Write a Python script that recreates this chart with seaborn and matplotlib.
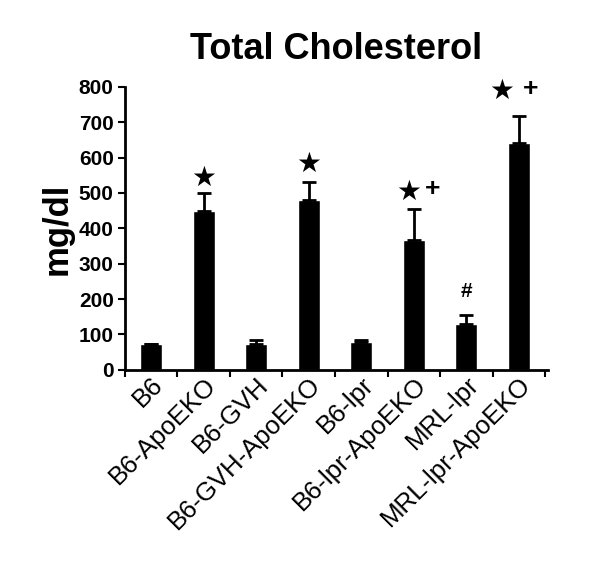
import pandas as pd
import seaborn as sns
import matplotlib.pyplot as plt

# данные
groups = ['B6', 'B6-ApoEKO', 'B6-GVH', 'B6-GVH-ApoEKO', 'B6-lpr',
          'B6-lpr-ApoEKO', 'MRL-lpr', 'MRL-lpr-ApoEKO']
chol = [73, 450, 73, 481, 79, 366, 130, 641]
err_up = [0, 49, 12, 50, 5, 89, 25, 77]

# метки значимости: (группа, текст, высота, сдвиг по x)
marks = [
    (1, '★', 543, 0.0), (3, '★', 581, 0.0), (5, '★', 504, -0.1),
    (5, '+', 510, 0.35), (6, '#', 222, 0.0), (7, '★', 790, -0.32),
    (7, '+', 795, 0.23),
]

df = pd.DataFrame({'group': groups, 'chol': chol})

sns.set_style("ticks")
plt.rcParams['font.family'] = ['Liberation Sans', 'DejaVu Sans']
for k in ['text.color', 'axes.labelcolor', 'xtick.color', 'ytick.color']:
    plt.rcParams[k] = 'black'

fig = plt.figure(figsize=(6, 5.68), dpi=100)
ax = fig.add_axes([0.208, 0.349, 0.705, 0.498])

sns.barplot(data=df, x='group', y='chol', color='black', width=0.42,
            saturation=1, ax=ax)
ax.errorbar(range(len(groups)), chol, yerr=[[0] * len(groups), err_up],
            fmt='none', ecolor='black', elinewidth=2, capsize=5, capthick=2)

for i, txt, h, dx in marks:
    fam = ['DejaVu Sans'] if txt == '★' else ['Liberation Sans']
    size = {'★': 20, '+': 19, '#': 15}[txt]
    ax.text(i + dx, h, txt, ha='center', va='center', fontsize=size,
            fontweight='bold', family=fam, color='black')

ax.set_ylim(0, 800)
ax.set_xlim(-0.5, 7.55)
ax.set_yticks(range(0, 801, 100))
ax.set_yticklabels([str(v) for v in range(0, 801, 100)], fontsize=15, fontweight='bold')
ax.set_xticks(range(len(groups)))
ax.set_xticklabels(groups, rotation=45, ha='right', rotation_mode='anchor', fontsize=18.5)
ax.tick_params(axis='x', length=0, pad=2)
ax.set_xticks([i - 0.5 for i in range(len(groups) + 1)], minor=True)
ax.tick_params(axis='x', which='minor', length=5, width=1.5, direction='out')
ax.tick_params(axis='y', length=5, width=1.5, direction='out', pad=3)

ax.set_xlabel('')
ax.set_ylabel('mg/dl', fontsize=25, fontweight='bold', labelpad=4)
ax.set_title('Total Cholesterol', fontsize=26, fontweight='bold', pad=20)

sns.despine(ax=ax)
for s in ['left', 'bottom']:
    ax.spines[s].set_linewidth(2)
    ax.spines[s].set_color('black')

fig.savefig('out.png', dpi=100)
